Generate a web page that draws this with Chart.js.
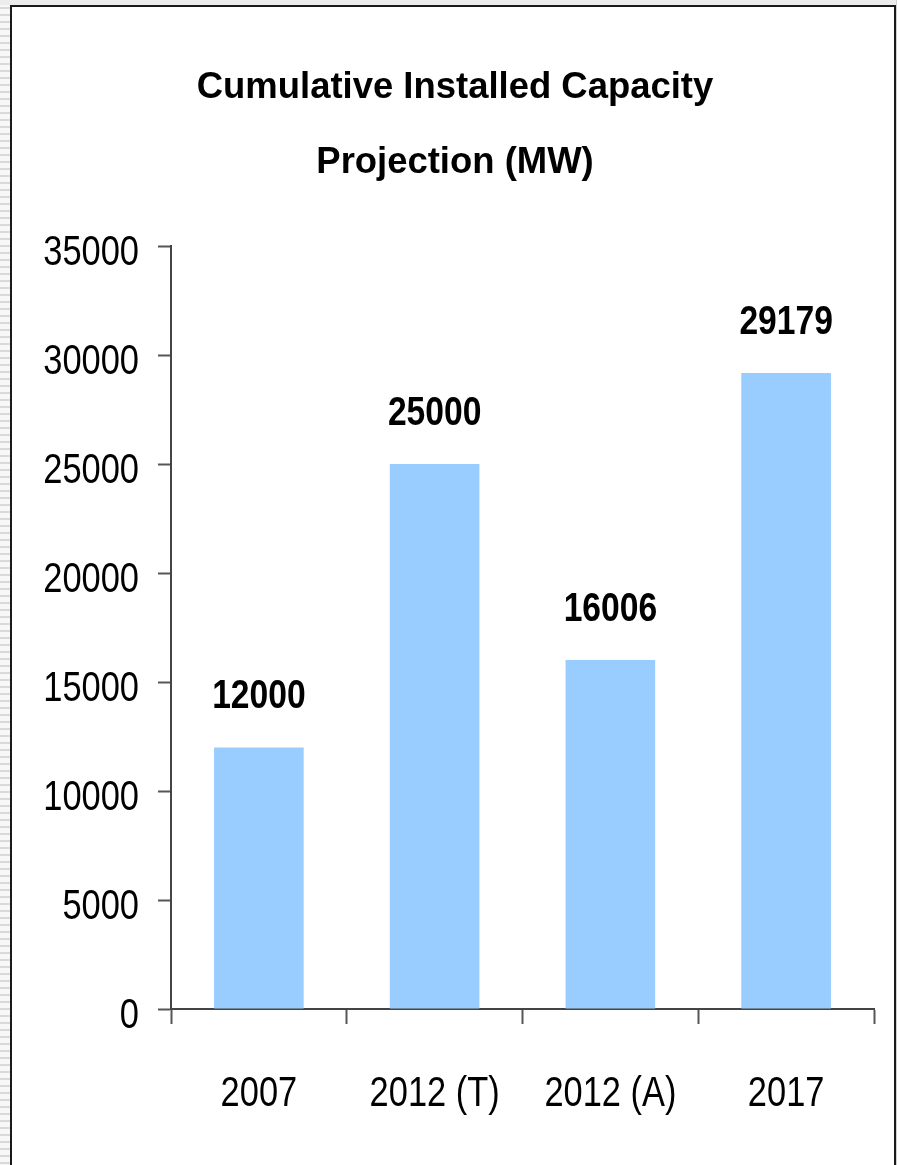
<!DOCTYPE html>
<html>
<head>
<meta charset="utf-8">
<title>Cumulative Installed Capacity Projection (MW)</title>
<script src="https://cdn.jsdelivr.net/npm/chart.js@4/dist/chart.umd.min.js"></script>
<style>
  html, body { margin: 0; padding: 0; background: #fff; }
  #page { position: relative; width: 897px; height: 1165px; overflow: hidden; background: #fff; }
  #edgeLeft { position: absolute; left: 0; top: 0; width: 11px; height: 1165px;
    background: repeating-linear-gradient(to bottom, #d9d9d9 0px, #d9d9d9 2px, #f7f7f7 2px, #f7f7f7 7px); }
  #edgeTop { position: absolute; left: 0; top: 0; width: 897px; height: 5px; background: #ececec; }
  #edgeRight { position: absolute; right: 0; top: 0; width: 1px; height: 1165px; background: #d0d0d0; }
  #frame { position: absolute; left: 10px; top: 5px; width: 886px; height: 1200px;
    border: 2px solid #1a1a1a; box-sizing: border-box; background: #fff; }
  #wrap { position: absolute; left: 0; top: 0; width: 897px; height: 1165px; }
</style>
</head>
<body>
<div id="page">
  <div id="edgeLeft"></div>
  <div id="edgeTop"></div>
  <div id="edgeRight"></div>
  <div id="frame"></div>
  <div id="wrap"><canvas id="chart" width="897" height="1165"></canvas></div>
</div>
<script>
// Chart content
const titleLines = ['Cumulative Installed Capacity', 'Projection (MW)'];
const categories = ['2007', '2012 (T)', '2012 (A)', '2017'];
const capacityMW = [12000, 25000, 16006, 29179];
const yTicks = [0, 5000, 10000, 15000, 20000, 25000, 30000, 35000];

const FONT = "'Liberation Sans', Arial, sans-serif";

// Draw text squeezed horizontally to mimic a condensed face
function drawText(ctx, text, x, y, font, align, sx) {
  ctx.save();
  ctx.font = font;
  ctx.fillStyle = '#000';
  ctx.textBaseline = 'alphabetic';
  const w = ctx.measureText(text).width * sx;
  let left = x;
  if (align === 'center') left = x - w / 2;
  else if (align === 'right') left = x - w;
  ctx.translate(left, y);
  ctx.scale(sx, 1);
  ctx.textAlign = 'left';
  ctx.fillText(text, 0, 0);
  ctx.restore();
}

// Title, axis tick labels and bar value labels, placed from the chart's scales
const chartText = {
  id: 'chartText',
  afterDraw(chart) {
    const ctx = chart.ctx;
    const xs = chart.scales.x;
    const ys = chart.scales.y;

    // title
    drawText(ctx, titleLines[0], 455, 98, 'bold 37px ' + FONT, 'center', 0.985);
    drawText(ctx, titleLines[1], 455, 173, 'bold 37px ' + FONT, 'center', 0.985);

    // y tick labels
    ys.ticks.forEach(t => {
      const py = ys.getPixelForValue(t.value);
      drawText(ctx, String(t.value), ys.right - 32, py + 19, '42px ' + FONT, 'right', 0.82);
    });

    // x tick labels
    categories.forEach((c, i) => {
      const px = xs.getPixelForTick(i);
      drawText(ctx, c, px, 1106, '43px ' + FONT, 'center', 0.80);
    });

    // bar value labels
    const meta = chart.getDatasetMeta(0);
    meta.data.forEach((bar, i) => {
      drawText(ctx, String(capacityMW[i]), bar.x, bar.y - 39, 'bold 41px ' + FONT, 'center', 0.82);
    });
  }
};

new Chart(document.getElementById('chart'), {
  type: 'bar',
  data: {
    labels: categories,
    datasets: [{
      data: capacityMW,
      backgroundColor: '#99ccff',
      borderWidth: 0,
      categoryPercentage: 1.0,
      barPercentage: 0.51
    }]
  },
  options: {
    responsive: false,
    animation: false,
    events: [],
    layout: { padding: { left: 0, right: 23, top: 246, bottom: 0 } },
    plugins: {
      legend: { display: false },
      tooltip: { enabled: false },
      title: { display: false }
    },
    scales: {
      x: {
        grid: {
          display: true,
          offset: true,
          drawOnChartArea: false,
          drawTicks: true,
          tickLength: 15,
          tickWidth: 2,
          tickColor: '#555'
        },
        border: { display: true, color: '#444', width: 2 },
        ticks: { display: false },
        afterFit(scale) { scale.height = 156; }
      },
      y: {
        min: 0,
        max: 35000,
        afterBuildTicks(scale) { scale.ticks = yTicks.map(v => ({ value: v })); },
        grid: {
          display: true,
          drawOnChartArea: false,
          drawTicks: true,
          tickLength: 13,
          tickWidth: 2,
          tickColor: '#555'
        },
        border: { display: true, color: '#444', width: 2 },
        ticks: { display: false },
        afterFit(scale) { scale.width = 171; }
      }
    }
  },
  plugins: [chartText]
});
</script>
</body>
</html>
